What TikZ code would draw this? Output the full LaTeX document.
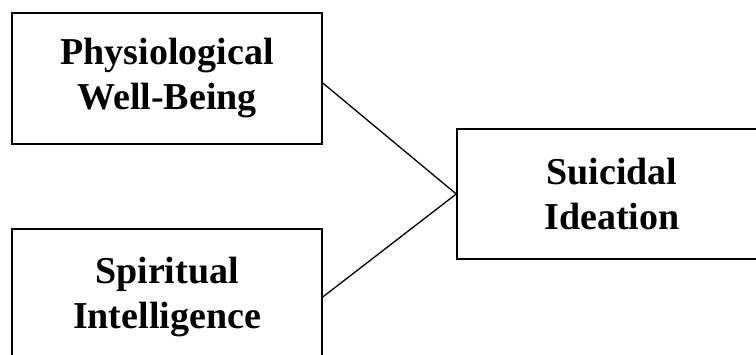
\documentclass[tikz,border=0pt]{standalone}
\usepackage{fontspec}
\setmainfont{Liberation Serif}
\begin{document}
\begin{tikzpicture}[x=1pt,y=-1pt,
  box/.style={draw=black,line width=1.5pt,rectangle,inner sep=0pt,align=center,
    font=\fontsize{38}{45}\selectfont\bfseries},
  link/.style={draw=black,line width=1.3pt}]
\useasboundingbox (0,0) rectangle (756,354);
\clip (0,0) rectangle (756,354);
\node[box,minimum width=310pt,minimum height=131pt] (pwb) at (167,78.5) {Physiological\\Well-Being};
\node[box,minimum width=310pt,minimum height=136pt] (si) at (167,297) {Spiritual\\Intelligence};
\node[box,minimum width=310pt,minimum height=130pt] (sui) at (612,194) {Suicidal\\Ideation};
\coordinate (pwbout) at ([yshift=-4.5pt]pwb.east);
\draw[link] (pwbout) -- (sui.west);
\draw[link] (si.east) -- (sui.west);
\end{tikzpicture}
\end{document}
